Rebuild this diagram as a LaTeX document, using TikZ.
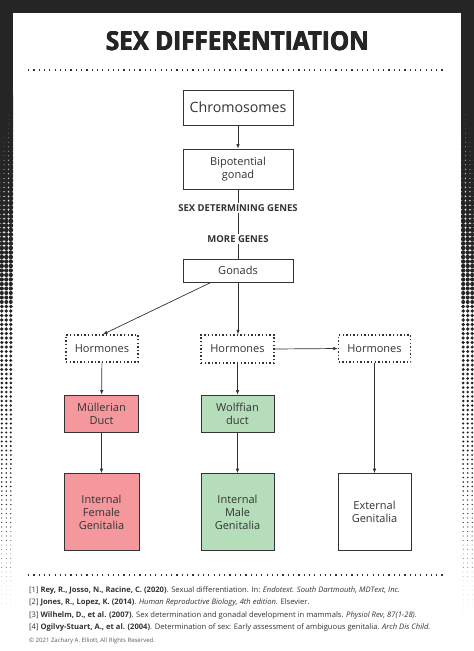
\documentclass[tikz,border=0pt]{standalone}
\usepackage{fontspec}
\setmainfont{Open Sans}
\usetikzlibrary{arrows.meta,calc}
\definecolor{frame}{HTML}{252525}
\definecolor{ink}{HTML}{333333}
\definecolor{pinkfill}{HTML}{F4989D}
\definecolor{greenfill}{HTML}{B6DDBA}
\tikzset{
  box/.style={draw=ink,line width=0.8pt,text=ink,align=center,inner sep=1pt,font=\fontsize{11}{13}\selectfont},
  dotbox/.style={box,draw=ink,line width=1.4pt,dash pattern=on 1.4pt off 2.2pt},
  arr/.style={draw=ink,line width=0.7pt,-{Latex[length=4.5pt,width=3.5pt]}},
  plain/.style={draw=ink,line width=0.7pt},
  lbl/.style={fill=white,text=ink,font=\fontsize{9.5}{11}\selectfont\bfseries,inner sep=1.5pt},
  dotline/.style={draw=ink,line width=1.2pt,dash pattern=on 1.2pt off 4.1pt},
  refs/.style={text=ink,anchor=base west,inner sep=0pt,font=\fontsize{7.6}{9}\selectfont},
  ttl/.style={text=frame,inner sep=0pt}
}
\newcommand{\titletext}{\resizebox{263pt}{19pt}{\bfseries SEX DIFFERENTIATION}}
\begin{document}
\begin{tikzpicture}[x=1pt,y=-1pt]
\useasboundingbox (0,0) rectangle (474,651);
\fill[white] (0,0) rectangle (474,651);
% frame
\fill[frame] (0,0) rectangle (474,13);
\fill[frame] (0,0) rectangle (13,95);
\fill[frame] (461,0) rectangle (474,95);
\begin{scope}
\clip (0,95) rectangle (13,651);
\foreach \k in {0,...,115} {
  \pgfmathsetmacro\yy{95+4.5*\k}
  \pgfmathsetmacro\rr{3.3*(1-\k/116)}
  \foreach \xx in {1.8,6.3,10.8} {\fill[frame] (\xx,\yy) circle (\rr);}
}
\end{scope}
\begin{scope}
\clip (461,95) rectangle (474,651);
\foreach \k in {0,...,115} {
  \pgfmathsetmacro\yy{95+4.5*\k}
  \pgfmathsetmacro\rr{3.3*(1-\k/116)}
  \foreach \xx in {463.2,467.7,472.2} {\fill[frame] (\xx,\yy) circle (\rr);}
}
\end{scope}
% title (drawn with slight offsets for a heavier weight)
\node[ttl] (title) at (237.5,41.5) {\titletext};
\node[ttl] (titleb) at (237.9,41.5) {\titletext};
\node[ttl] (titlec) at (237.1,41.5) {\titletext};
\node[ttl] (titled) at (237.5,41.1) {\titletext};
\coordinate (d1a) at (28,70); \coordinate (d1b) at (446,70);
\draw[dotline] (d1a) -- (d1b);
% nodes
\node[box,minimum width=110pt,minimum height=35pt,font=\fontsize{14.2}{16}\selectfont] (chrom) at (238,107.5) {Chromosomes};
\node[box,minimum width=110pt,minimum height=40pt] (bipot) at (238,169) {Bipotential\\gonad};
\node[box,minimum width=110pt,minimum height=23pt] (gonads) at (238,270.5) {Gonads};
\node[dotbox,minimum width=72pt,minimum height=27pt] (h1) at (102,348.5) {Hormones};
\node[dotbox,minimum width=73pt,minimum height=28pt] (h2) at (237.5,349) {Hormones};
\node[dotbox,minimum width=72pt,minimum height=27pt] (h3) at (374.5,348.5) {Hormones};
\node[box,fill=pinkfill,minimum width=74pt,minimum height=37pt] (mull) at (101.5,413.5) {Müllerian\\Duct};
\node[box,fill=greenfill,minimum width=73pt,minimum height=37pt] (wolf) at (237.5,413.5) {Wolffian\\duct};
\node[box,fill=pinkfill,minimum width=75pt,minimum height=77pt] (fem) at (101.5,512) {Internal\\Female\\Genitalia};
\node[box,fill=greenfill,minimum width=73pt,minimum height=77pt] (male) at (237.5,512) {Internal\\Male\\Genitalia};
\node[box,minimum width=73pt,minimum height=77pt] (ext) at (374.5,512) {External\\Genitalia};
% connectors
\draw[arr] (chrom) -- (bipot);
\draw[plain] (bipot) -- (gonads);
\node[lbl] (sdg) at (238,208) {SEX DETERMINING GENES};
\node[lbl] (mg) at (238,239) {MORE GENES};
\draw[arr] ([xshift=-27pt]gonads.south) -- ([xshift=1pt]h1.north);
\draw[arr] (gonads.south) -- (gonads.south |- h2.north);
\draw[arr] (h2.east) -- (h3.west);
\draw[arr] (h1) -- (mull);
\draw[arr] (mull) -- (fem);
\draw[arr] (h2) -- (wolf);
\draw[arr] (wolf) -- (male);
\draw[arr] (h3) -- (ext);
% bottom
\coordinate (d2a) at (28,575); \coordinate (d2b) at (446,575);
\draw[dotline] (d2a) -- (d2b);
\node[refs] (r1) at (29,592) {[1] \textbf{Rey, R., Josso, N., Racine, C. (2020)}. Sexual differentiation. In: \textit{Endotext. South Dartmouth, MDText, Inc.}};
\node[refs] (r2) at (29,604.5) {[2] \textbf{Jones, R., Lopez, K. (2014)}. \textit{Human Reproductive Biology, 4th edition.} Elsevier.};
\node[refs] (r3) at (29,617) {[3] \textbf{Wilhelm, D., et al. (2007)}. Sex determination and gonadal development in mammals. \textit{Physiol Rev, 87(1-28).}};
\node[refs] (r4) at (29,629.5) {[4] \textbf{Ogilvy-Stuart, A., et al. (2004)}. Determination of sex: Early assessment of ambiguous genitalia. \textit{Arch Dis Child.}};
\node[refs,text=ink!80,font=\fontsize{6}{7}\selectfont] (copy) at (29,642.5) {© 2021 Zachary A. Elliott, All Rights Reserved.};
\end{tikzpicture}
\end{document}
